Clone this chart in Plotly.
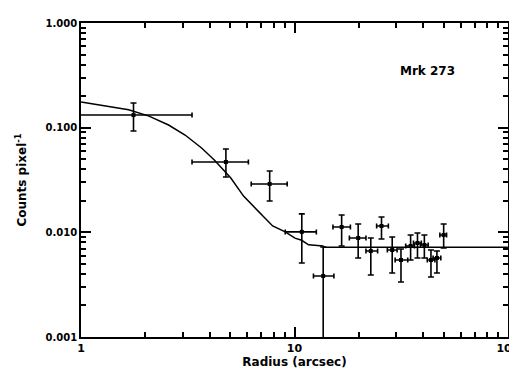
import plotly.graph_objects as go

# Data points (radius in arcsec, counts per pixel)
radius = [1.76, 4.77, 7.65, 10.82, 13.63, 16.63, 19.88, 25.57, 22.78, 28.7, 31.55,
          35.0, 37.7, 40.6, 43.6, 46.5, 50.0]
radius_lo = [0.3, 3.31, 6.27, 9.05, 12.27, 15.14, 18.08, 24.26, 21.62, 27.23, 29.62,
             33.2, 36.1, 38.9, 41.9, 44.6, 48.0]
radius_hi = [3.31, 6.08, 9.24, 12.66, 15.30, 18.28, 21.62, 27.53, 24.52, 30.25, 33.93,
             36.5, 39.3, 42.3, 45.5, 48.5, 51.6]
counts = [0.132, 0.047, 0.029, 0.0101, 0.00383, 0.01125, 0.00883, 0.0115, 0.00663,
          0.00678, 0.00544, 0.0074, 0.00791, 0.00757, 0.00544, 0.00569, 0.00944]
counts_hi = [0.172, 0.0625, 0.0385, 0.0150, 0.00724, 0.01465, 0.0120, 0.0140, 0.00883,
             0.00902, 0.00693, 0.00944, 0.00986, 0.00944, 0.00678, 0.00663, 0.0120]
counts_lo = [0.0929, 0.0338, 0.0199, 0.00509, 0.0001, 0.0074, 0.00569, 0.00864, 0.00391,
             0.00409, 0.00335, 0.00544, 0.00569, 0.00569, 0.00374, 0.00409, 0.00708]

# Model curve
model_r = [1.0, 1.67, 2.08, 2.57, 3.07, 3.67, 4.21, 5.03, 5.77, 6.40, 7.11, 7.90,
           9.05, 10.05, 10.8, 11.64, 13.6, 13.7, 100.0]
model_c = [0.176, 0.148, 0.129, 0.106, 0.0851, 0.064, 0.0491, 0.033, 0.0222, 0.0179,
           0.0143, 0.0115, 0.0101, 0.0088, 0.0084, 0.0076, 0.0074, 0.0072, 0.0072]

x_ticks = [1, 10, 100]
x_tick_labels = ["1", "10", "100"]
x_minor = [m * d for d in (1, 10) for m in range(2, 10)]
y_ticks = [0.001, 0.01, 0.1, 1.0]
y_tick_labels = ["0.001", "0.010", "0.100", "1.000"]
y_minor = [m * d for d in (0.001, 0.01, 0.1) for m in range(2, 10)]

XR = [-0.0005, 2.0005]
YR = [-3, 0]

fig = go.Figure()

fig.add_trace(go.Scatter(
    x=model_r, y=model_c, mode="lines",
    line=dict(color="black", width=1.5),
    showlegend=False, hoverinfo="skip"))

fig.add_trace(go.Scatter(
    x=radius, y=counts, mode="markers",
    marker=dict(color="black", size=4, symbol="square"),
    error_x=dict(type="data", symmetric=False,
                 array=[h - x for h, x in zip(radius_hi, radius)],
                 arrayminus=[x - l for l, x in zip(radius_lo, radius)],
                 color="black", thickness=1.6, width=2.5),
    error_y=dict(type="data", symmetric=False,
                 array=[h - c for h, c in zip(counts_hi, counts)],
                 arrayminus=[c - l for l, c in zip(counts_lo, counts)],
                 color="black", thickness=1.6, width=3),
    showlegend=False))

# invisible trace to carry the minor-tick overlay axes
fig.add_trace(go.Scatter(
    x=[radius[0]], y=[counts[0]], xaxis="x2", yaxis="y2", mode="markers",
    marker=dict(opacity=0), showlegend=False, hoverinfo="skip"))

font_fam = "DejaVu Sans, Arial, sans-serif"

fig.update_layout(
    width=517, height=368,
    margin=dict(l=73, r=5, t=15, b=39),
    paper_bgcolor="white", plot_bgcolor="white", showlegend=False,
    font=dict(family=font_fam, color="black", size=10, weight="bold"),
    xaxis=dict(type="log", range=XR, tickmode="array",
               tickvals=x_ticks, ticktext=x_tick_labels, ticklabeloverflow="allow",
               ticks="inside", ticklen=10, tickwidth=1.6, tickcolor="black",
               showline=True, linecolor="black", linewidth=1.6, mirror="ticks",
               showgrid=False, zeroline=False,
               tickfont=dict(size=11, family=font_fam, weight="bold"),
               title=dict(text="Radius (arcsec)", font=dict(size=12, weight="bold"),
                          standoff=2)),
    yaxis=dict(type="log", range=YR, tickmode="array",
               tickvals=y_ticks, ticktext=y_tick_labels,
               ticks="inside", ticklen=10, tickwidth=1.6, tickcolor="black",
               showline=True, linecolor="black", linewidth=1.6, mirror="ticks",
               showgrid=False, zeroline=False,
               tickfont=dict(size=10, family=font_fam, weight="bold"),
               title=dict(text="Counts pixel<sup>-1</sup>", font=dict(size=12, weight="bold"),
                          standoff=16)),
    xaxis2=dict(type="log", range=XR, overlaying="x", anchor="y2", side="bottom",
                tickmode="array", tickvals=x_minor, showticklabels=False,
                ticks="inside", ticklen=5, tickwidth=1.6, tickcolor="black",
                mirror="ticks", showline=False, showgrid=False, zeroline=False),
    yaxis2=dict(type="log", range=YR, overlaying="y", anchor="x2", side="left",
                tickmode="array", tickvals=y_minor, showticklabels=False,
                ticks="inside", ticklen=5, tickwidth=1.6, tickcolor="black",
                mirror="ticks", showline=False, showgrid=False, zeroline=False),
    annotations=[dict(text="Mrk 273", x=0.811, y=0.847, xref="paper", yref="paper",
                      xanchor="center", yanchor="middle",
                      showarrow=False, font=dict(size=12, family=font_fam, weight="bold"))],
)

fig.write_html("out.html")
